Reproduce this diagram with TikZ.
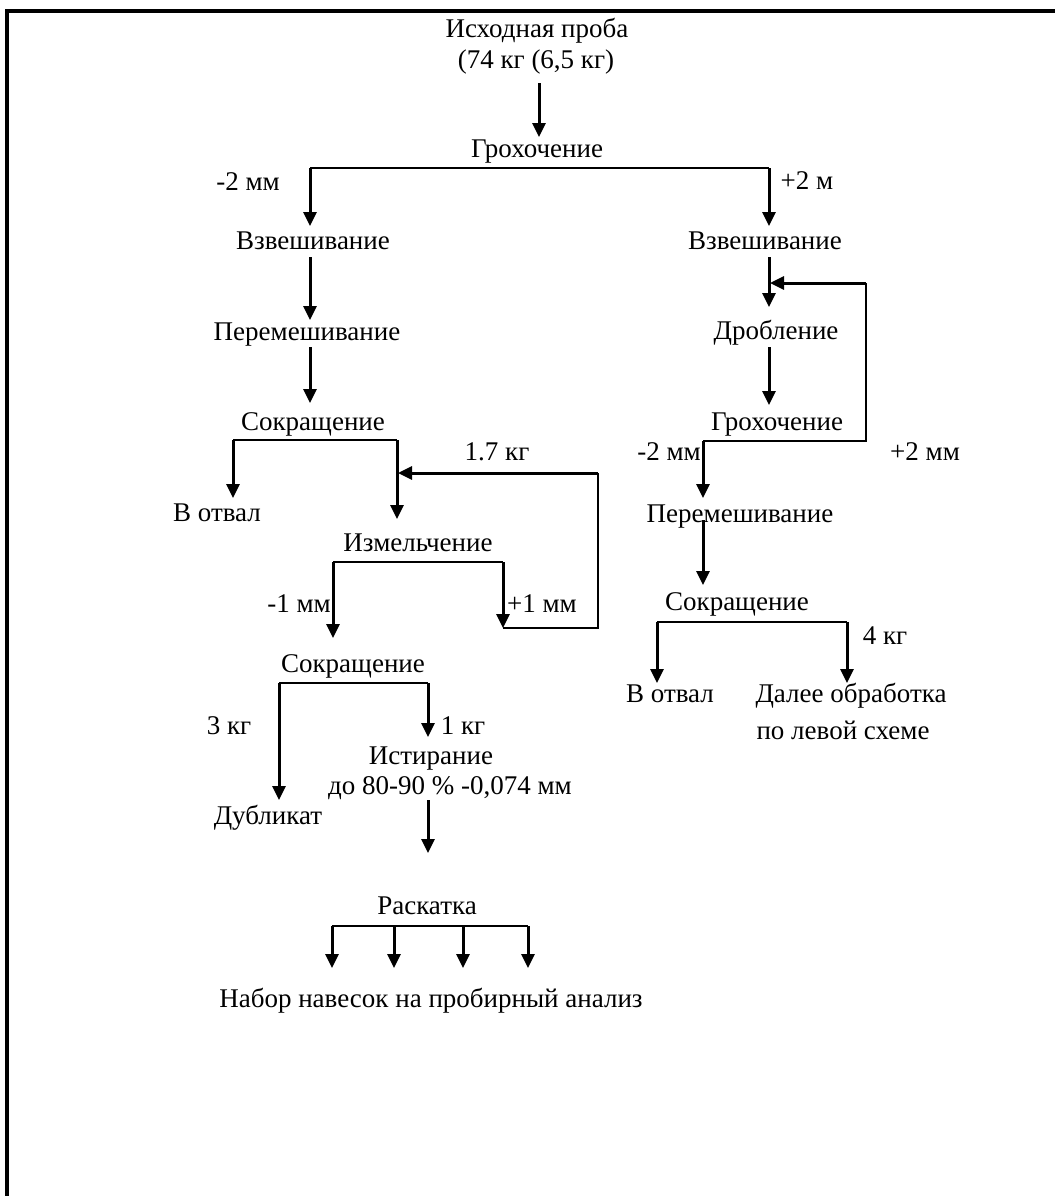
\documentclass[tikz,border=0pt]{standalone}
\usepackage{fontspec}
\setmainfont{Liberation Serif}
\usetikzlibrary{arrows.meta}
\begin{document}
\begin{tikzpicture}[x=0.5pt,y=-0.5pt,
  txt/.style={inner sep=0pt,anchor=base,font=\fontsize{13.5}{16}\selectfont},
  arr/.style={line width=1.5pt,-{Triangle[length=7pt,width=6.5pt]}},
  thin/.style={line width=0.75pt},
  frame/.style={line width=2pt}]
\useasboundingbox (0,0) rectangle (1055,1196);
% frame
\coordinate (fa) at (1055,11);
\coordinate (fb) at (7,11);
\coordinate (fc) at (7,1196);
\draw[frame] (fa) -- (fb) -- (fc);

% text nodes
\node[txt] (src1) at (537,37) {Исходная проба};
\node[txt] (src2) at (536,68) {(74 кг (6,5 кг)};
\node[txt] (gr1) at (537,157) {Грохочение};
\node[txt] (lm2) at (248,190) {-2 мм};
\node[txt] (rp2) at (807,189) {+2 м};
\node[txt] (vzL) at (313,249) {Взвешивание};
\node[txt] (vzR) at (765,249) {Взвешивание};
\node[txt] (drob) at (776,339) {Дробление};
\node[txt] (gr2) at (777,430) {Грохочение};
\node[txt] (m2R) at (669,460) {-2 мм};
\node[txt] (p2R) at (925,460) {+2 мм};
\node[txt] (perR) at (740,522) {Перемешивание};
\node[txt] (sokR) at (737,610) {Сокращение};
\node[txt] (kg4) at (885,644) {4 кг};
\node[txt] (otvR) at (670,702) {В отвал};
\node[txt] (dal1) at (851,702) {Далее обработка};
\node[txt] (dal2) at (843,739) {по левой схеме};
\node[txt] (perL) at (307,340) {Перемешивание};
\node[txt] (sokL) at (313,430) {Сокращение};
\node[txt] (kg17) at (497,460) {1.7 кг};
\node[txt] (otvL) at (217,521) {В отвал};
\node[txt] (izm) at (418,551) {Измельчение};
\node[txt] (m1) at (299,612) {-1 мм};
\node[txt] (p1) at (542,612) {+1 мм};
\node[txt] (sok2) at (353,672) {Сокращение};
\node[txt] (kg3) at (229,734) {3 кг};
\node[txt] (kg1) at (463,734) {1 кг};
\node[txt] (ist1) at (431,764) {Истирание};
\node[txt] (ist2) at (450,794) {до 80-90 \% -0,074 мм};
\node[txt] (dub) at (268,824) {Дубликат};
\node[txt] (rask) at (427,914) {Раскатка};
\node[txt] (nab) at (431,1007) {Набор навесок на пробирный анализ};

% coordinates
\coordinate (a0s) at (539,83);  \coordinate (a0e) at (539,137);
\coordinate (b1l) at (310,168); \coordinate (b1r) at (769,168);
\coordinate (b1le) at (310,226); \coordinate (b1re) at (769,226);
\coordinate (l1s) at (310,257); \coordinate (l1e) at (310,320);
\coordinate (l2s) at (310,347); \coordinate (l2e) at (310,403);
\coordinate (r1s) at (769,257); \coordinate (r1e) at (769,307);
\coordinate (r2s) at (769,347); \coordinate (r2e) at (769,405);
\coordinate (rfa) at (703,441); \coordinate (rfb) at (866,441);
\coordinate (rfc) at (866,283); \coordinate (rfd) at (770,283);
\coordinate (r3e) at (703,498);
\coordinate (r4s) at (703,520); \coordinate (r4e) at (703,585);
\coordinate (b5l) at (657,622); \coordinate (b5r) at (847,622);
\coordinate (b5le) at (657,683); \coordinate (b5re) at (847,683);
\coordinate (b2l) at (233,440); \coordinate (b2r) at (397,440);
\coordinate (b2le) at (233,498); \coordinate (b2re) at (397,519);
\coordinate (lfa) at (503,628); \coordinate (lfb) at (598,628);
\coordinate (lfc) at (598,473); \coordinate (lfd) at (398,473);
\coordinate (b3l) at (333,562); \coordinate (b3r) at (503,562);
\coordinate (b3le) at (333,638);
\coordinate (b4l) at (279,683); \coordinate (b4r) at (428,683);
\coordinate (b4le) at (279,800); \coordinate (b4re) at (428,737);
\coordinate (i1s) at (428,800); \coordinate (i1e) at (428,853);
\coordinate (k1) at (332,926); \coordinate (k2) at (394,926);
\coordinate (k3) at (463,926); \coordinate (k4) at (528,926);
\coordinate (k1e) at (332,968); \coordinate (k2e) at (394,968);
\coordinate (k3e) at (463,968); \coordinate (k4e) at (528,968);

% connectors
\draw[arr] (a0s) -- (a0e);
\draw[thin] (b1l) -- (b1r);
\draw[arr] (b1l) -- (b1le);
\draw[arr] (b1r) -- (b1re);
\draw[arr] (l1s) -- (l1e);
\draw[arr] (l2s) -- (l2e);
\draw[arr] (r1s) -- (r1e);
\draw[arr] (r2s) -- (r2e);
\draw[thin] (rfa) -- (rfb) -- (rfc);
\draw[arr] (rfc) -- (rfd);
\draw[arr] (rfa) -- (r3e);
\draw[arr] (r4s) -- (r4e);
\draw[thin] (b5l) -- (b5r);
\draw[arr] (b5l) -- (b5le);
\draw[arr] (b5r) -- (b5re);
\draw[thin] (b2l) -- (b2r);
\draw[arr] (b2l) -- (b2le);
\draw[arr] (b2r) -- (b2re);
\draw[thin] (lfa) -- (lfb) -- (lfc);
\draw[arr] (lfc) -- (lfd);
\draw[thin] (b3l) -- (b3r);
\draw[arr] (b3l) -- (b3le);
\draw[arr] (b3r) -- (lfa);
\draw[thin] (b4l) -- (b4r);
\draw[arr] (b4l) -- (b4le);
\draw[arr] (b4r) -- (b4re);
\draw[arr] (i1s) -- (i1e);
\draw[thin] (k1) -- (k4);
\draw[arr] (k1) -- (k1e);
\draw[arr] (k2) -- (k2e);
\draw[arr] (k3) -- (k3e);
\draw[arr] (k4) -- (k4e);
\end{tikzpicture}
\end{document}
